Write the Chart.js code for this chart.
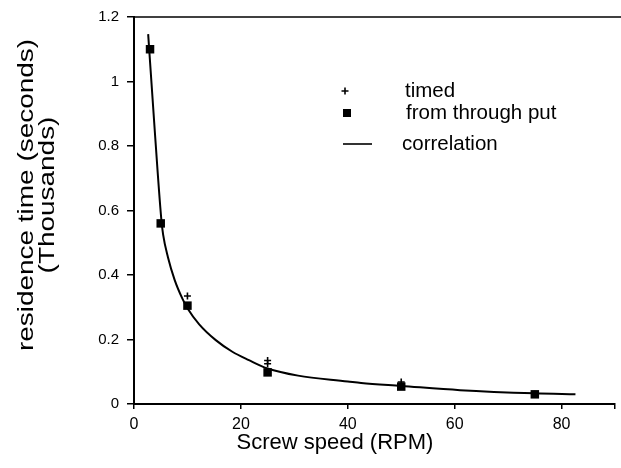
<!DOCTYPE html>
<html>
<head>
<meta charset="utf-8">
<script src="https://cdn.jsdelivr.net/npm/chart.js@4.4.1/dist/chart.umd.min.js"></script>
<style>
  html, body { margin: 0; padding: 0; background: #fff; }
  #wrap { width: 621px; height: 468px; position: relative; }
</style>
</head>
<body>
<div id="wrap"><canvas id="c" width="621" height="468"></canvas></div>
<script>
// ---- data ----
const timedX = [3, 5, 10, 25, 25, 50, 75];
const timedY = [1.10, 0.56, 0.335, 0.135, 0.125, 0.068, 0.030];

const throughX = [3, 5, 10, 25, 50, 75];
const throughY = [1.10, 0.56, 0.305, 0.098, 0.054, 0.030];

const corrX = [2.65, 3.75, 5.1, 5.45, 6.35, 7.6, 9.1, 10, 12.2, 15.3, 18.4, 21.5, 25, 30.7, 40, 42.5, 50, 61, 75, 82.6];
const corrY = [1.147, 0.88, 0.575, 0.525, 0.455, 0.385, 0.325, 0.297, 0.247, 0.198, 0.162, 0.136, 0.110, 0.088, 0.070, 0.065, 0.056, 0.043, 0.033, 0.030];

const seriesLabels = ['timed', 'from through put', 'correlation'];
const xTickLabels = ['0', '20', '40', '60', '80'];
const yTickLabels = ['0', '0.2', '0.4', '0.6', '0.8', '1', '1.2'];
const xTitle = 'Screw speed (RPM)';
const yTitle = ['residence time (seconds)', '(Thousands)'];

const pts = (xs, ys) => xs.map((x, i) => ({ x: x, y: ys[i] }));

const FONT = '"Liberation Sans", Arial, Helvetica, sans-serif';

const topBorder = {
  id: 'topBorder',
  afterDraw(chart) {
    const { ctx, chartArea } = chart;
    ctx.save();
    ctx.strokeStyle = '#000';
    ctx.lineWidth = 1.5;
    ctx.beginPath();
    ctx.moveTo(chartArea.left, chartArea.top);
    ctx.lineTo(chart.width, chartArea.top);
    ctx.stroke();
    ctx.restore();
  }
};

const axisTitles = {
  id: 'axisTitles',
  afterDraw(chart) {
    const { ctx } = chart;
    ctx.save();
    ctx.fillStyle = '#000';
    ctx.textAlign = 'center';
    ctx.textBaseline = 'middle';
    ctx.font = '22px ' + FONT;
    ctx.fillText(xTitle, 335, 443);
    ctx.translate(0, 195);
    ctx.rotate(-Math.PI / 2);
    ctx.scale(1.27, 1);
    ctx.font = '22px ' + FONT;
    ctx.fillText(yTitle[0], 0, 27);
    ctx.fillText(yTitle[1], 0, 48);
    ctx.restore();
  }
};

const customLegend = {
  id: 'customLegend',
  afterDraw(chart) {
    const { ctx } = chart;
    const items = [
      { type: 'cross', mx: 345, y: 91, tx: 405 },
      { type: 'rect', mx: 347, y: 113, tx: 406 },
      { type: 'line', mx: 357, y: 144, tx: 402 }
    ];
    ctx.save();
    ctx.fillStyle = '#000';
    ctx.strokeStyle = '#000';
    items.forEach((it, i) => {
      ctx.beginPath();
      if (it.type === 'cross') {
        ctx.lineWidth = 1.6;
        ctx.moveTo(it.mx - 3.5, it.y); ctx.lineTo(it.mx + 3.5, it.y);
        ctx.moveTo(it.mx, it.y - 3.5); ctx.lineTo(it.mx, it.y + 3.5);
        ctx.stroke();
      } else if (it.type === 'rect') {
        ctx.fillRect(it.mx - 4, it.y - 4, 8, 8);
      } else {
        ctx.lineWidth = 1.6;
        ctx.moveTo(it.mx - 14, it.y); ctx.lineTo(it.mx + 15, it.y);
        ctx.stroke();
      }
      ctx.font = '20.5px ' + FONT;
      ctx.textBaseline = 'middle';
      ctx.textAlign = 'left';
      ctx.fillText(seriesLabels[i], it.tx, it.y);
    });
    ctx.restore();
  }
};

new Chart(document.getElementById('c'), {
  type: 'scatter',
  data: {
    datasets: [
      {
        label: seriesLabels[2],
        type: 'line',
        data: pts(corrX, corrY),
        borderColor: '#000',
        borderWidth: 2,
        pointRadius: 0,
        fill: false,
        cubicInterpolationMode: 'monotone',
        order: 3
      },
      {
        label: seriesLabels[1],
        data: pts(throughX, throughY),
        pointStyle: 'rect',
        pointRadius: 6,
        backgroundColor: '#000',
        borderColor: '#000',
        borderWidth: 0,
        order: 2
      },
      {
        label: seriesLabels[0],
        data: pts(timedX, timedY),
        pointStyle: 'cross',
        pointRadius: 3.5,
        borderColor: '#000',
        borderWidth: 1.6,
        order: 1
      }
    ]
  },
  options: {
    responsive: false,
    animation: false,
    events: [],
    layout: { padding: { top: 16, right: 1, left: 0, bottom: 0 } },
    plugins: { legend: { display: false }, tooltip: { enabled: false } },
    scales: {
      x: {
        type: 'linear',
        min: 0, max: 90,
        afterFit(s) { s.height = 64; },
        border: { display: true, color: '#000', width: 2 },
        grid: { drawOnChartArea: false, color: '#000', tickLength: 5, lineWidth: 1.5 },
        ticks: {
          stepSize: 20,
          color: '#000',
          padding: 6,
          font: { family: FONT, size: 16 },
          maxRotation: 0,
          callback: (v) => { const i = xTickLabels.indexOf(String(v)); return i >= 0 ? xTickLabels[i] : ''; }
        },
        title: { display: false }
      },
      y: {
        type: 'linear',
        min: 0, max: 1.2,
        afterFit(s) { s.width = 134; },
        border: { display: true, color: '#000', width: 2 },
        grid: { drawOnChartArea: false, color: '#000', tickLength: 7, lineWidth: 1.5 },
        ticks: {
          stepSize: 0.2,
          color: '#000',
          padding: 8,
          font: { family: FONT, size: 15 },
          callback: (v, i) => yTickLabels[i]
        },
        title: { display: false }
      }
    }
  },
  plugins: [topBorder, axisTitles, customLegend]
});
</script>
</body>
</html>
